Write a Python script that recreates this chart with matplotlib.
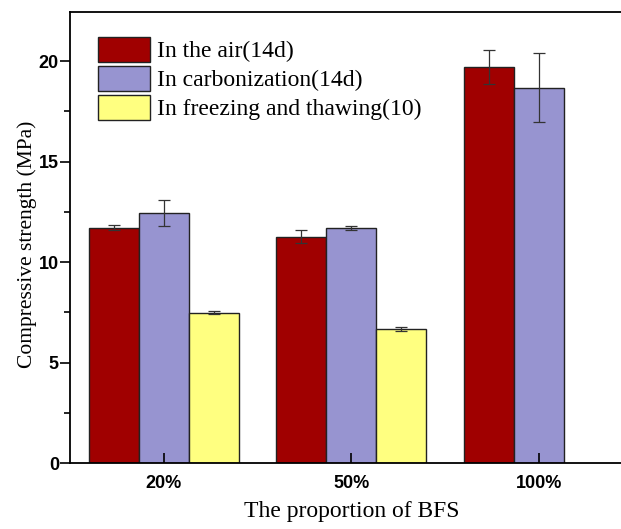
import numpy as np
import matplotlib
matplotlib.use('Agg')
import matplotlib.pyplot as plt
from matplotlib.ticker import MultipleLocator

groups = ['20%', '50%', '100%']
series = ['In the air(14d)', 'In carbonization(14d)', 'In freezing and thawing(10)']
air = [11.7, 11.25, 19.7]
air_err = [0.13, 0.32, 0.84]
carb = [12.42, 11.7, 18.68]
carb_err = [0.65, 0.11, 1.71]
freeze = [7.48, 6.67]
freeze_err = [0.06, 0.08]

colors = ['#A00000', '#9794D0', '#FFFF80']

fig = plt.figure(figsize=(6.21, 5.29), dpi=100)
ax = fig.add_axes([70 / 621, 1 - 463 / 529, 562.5 / 621, (463 - 12) / 529])

x = np.arange(len(groups))
w = 0.267
err_kw = dict(ecolor='#333333', elinewidth=0.9, capsize=4, capthick=0.9)
ax.bar(x - w, air, w, yerr=air_err, color=colors[0], edgecolor='#222222',
       linewidth=1, label=series[0], error_kw=err_kw)
ax.bar(x, carb, w, yerr=carb_err, color=colors[1], edgecolor='#222222',
       linewidth=1, label=series[1], error_kw=err_kw)
ax.bar(x[:2] + w, freeze, w, yerr=freeze_err, color=colors[2], edgecolor='#222222',
       linewidth=1, label=series[2], error_kw=err_kw)

ax.set_xlim(-0.5, 2.5)
ax.set_ylim(0, 22.44)
ax.set_xticks(x)
ax.set_xticklabels(groups)
ax.yaxis.set_major_locator(MultipleLocator(5))
ax.yaxis.set_minor_locator(MultipleLocator(2.5))

for s in ax.spines.values():
    s.set_linewidth(1.3)
ax.spines['right'].set_visible(False)

ax.tick_params(axis='y', which='major', direction='out', length=7, width=1.2,
               labelsize=13, pad=1)
ax.tick_params(axis='y', which='minor', direction='out', length=4, width=1.2)
ax.tick_params(axis='x', which='major', direction='in', length=7, width=1.2,
               labelsize=13, pad=9)
for lab in ax.get_xticklabels() + ax.get_yticklabels():
    lab.set_fontfamily('Liberation Sans')
    lab.set_fontweight('bold')

ax.set_ylabel('Compressive strength (MPa)', fontfamily='Liberation Serif',
              fontsize=15.5)
ax.yaxis.set_label_coords(-0.059, 0.485)
ax.set_xlabel('The proportion of BFS', fontfamily='Liberation Serif',
              fontsize=17, labelpad=6)

ax.legend(loc='upper left', bbox_to_anchor=(0.05, 0.945), frameon=False,
          prop={'family': 'Liberation Serif', 'size': 17},
          handlelength=2.2, handleheight=1.25, labelspacing=0.15,
          handletextpad=0.3, borderaxespad=0, borderpad=0)

fig.savefig('out.png', dpi=100)
